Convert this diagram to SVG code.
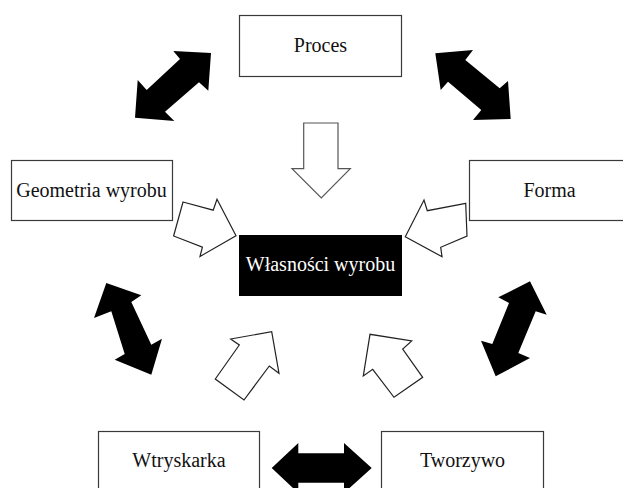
<svg xmlns="http://www.w3.org/2000/svg" width="623" height="488" viewBox="0 0 623 488">
<style>
.box{fill:#fff;stroke:#3a3a3a;stroke-width:1.2}
.core{fill:#000;stroke:#000;stroke-width:1}
.lbl{font-family:"Liberation Serif","Times New Roman",serif;font-size:20px;fill:#111;text-anchor:middle}
.wl{fill:#fff}
.dbl{fill:#000;stroke:none}
.in{fill:#fff;stroke:#222;stroke-width:1.2;stroke-linejoin:miter}
.in2{fill:#fff;stroke:#555;stroke-width:1.2}
</style>
<rect width="623" height="488" fill="#fff"/>
<g id="connectors">
<polygon class="dbl" points="211,53 173.3,51 180,59 146.7,90 137.7,80 135,117.7 174.3,121 165,111.7 199,82.3 208.3,90.7"/>
<polygon class="dbl" points="435.3,53.3 473,50 465.3,60 499.7,88.3 508,81 510.7,119 473,120 481.3,110 448,81.7 440.7,90"/>
<polygon class="dbl" points="106.3,283 141.3,295.3 131.3,302 151.3,344.7 162,338.7 151.3,374.7 114.7,359.7 124.7,354 111.3,311.3 94,318"/>
<polygon class="dbl" points="530,281.3 546.7,314.7 535.7,311.3 518.3,353 530,358 495.7,376.3 481,340.7 492.3,344 509,303 498.3,297.3"/>
<polygon class="dbl" points="271.7,468 298.3,443 298.3,453.3 344,453.3 344,443 371.7,468 344,493 344,482.7 298.3,482.7 298.3,493"/>
<polygon class="in2" points="303.7,123 338,123 338,168.7 350.3,168.7 321.3,198 292,168.7 303.7,168.7"/>
<polygon class="in" points="183,202 213.2,210.2 217,199.3 236,235.7 200,256.4 202.4,247.2 173.6,236"/>
<polygon class="in" points="465.7,203.3 427.3,210.7 424,200 405.3,236.7 442,256.7 440.7,247.3 467,236"/>
<polygon class="in" points="215.3,379 239.3,345 230.7,339 271.7,331.7 279,373.3 269.3,366 244,400"/>
<polygon class="in" points="422.7,377.3 402.7,349 411.7,341 370,334.3 363.3,376 372.7,369.3 394,397.3"/>
</g>
<g id="node-proces">
<rect class="box" x="239.5" y="15.5" width="162" height="61"/>
<text class="lbl" x="320.5" y="52">Proces</text>
</g>
<g id="node-geometria">
<rect class="box" x="11.5" y="160.5" width="161" height="60"/>
<text class="lbl" x="91.5" y="197">Geometria wyrobu</text>
</g>
<g id="node-forma">
<rect class="box" x="469.5" y="160.5" width="162" height="60"/>
<text class="lbl" x="549.5" y="197">Forma</text>
</g>
<g id="node-wlasnosci">
<rect class="core" x="239.5" y="235.5" width="162" height="60"/>
<text class="lbl wl" x="320.5" y="271">Własności wyrobu</text>
</g>
<g id="node-wtryskarka">
<rect class="box" x="98.5" y="431.5" width="161" height="61"/>
<text class="lbl" x="179" y="467">Wtryskarka</text>
</g>
<g id="node-tworzywo">
<rect class="box" x="381.5" y="431.5" width="162" height="61"/>
<text class="lbl" x="462.5" y="467">Tworzywo</text>
</g>
</svg>
